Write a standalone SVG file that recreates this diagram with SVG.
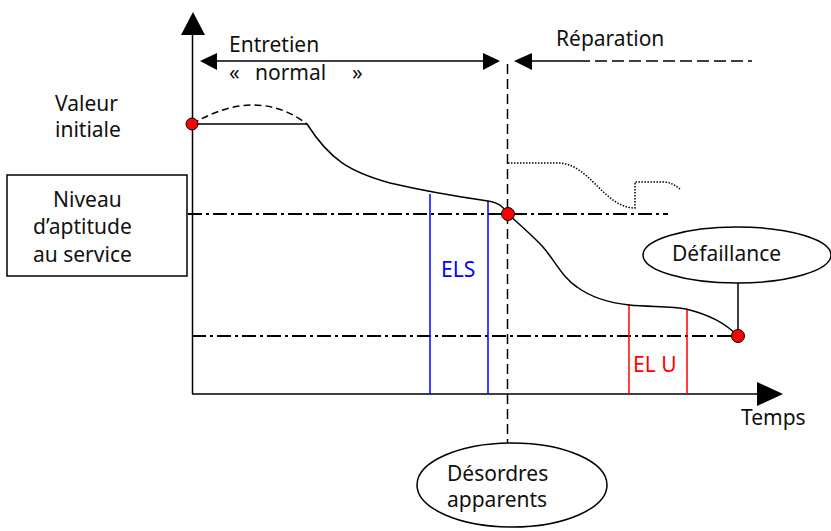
<svg xmlns="http://www.w3.org/2000/svg" width="831" height="531" viewBox="0 0 831 531">
<style>
text{font-family:"Noto Sans","Open Sans",sans-serif;font-size:21px;fill:#111}
.ln{stroke:#000;stroke-width:1.5;fill:none}
.dd{stroke:#000;stroke-width:2;fill:none;stroke-dasharray:14 4 3 4}
.ds{stroke:#000;stroke-width:1.5;fill:none;stroke-dasharray:10 5}
.dot{fill:#f00;stroke:#000;stroke-width:1}
.blue{stroke:#00f;stroke-width:1.5}
.red{stroke:#f00;stroke-width:1.5}
.ah{fill:#000}
</style>
<rect width="831" height="531" fill="#fff"/>
<g id="axes">
<line class="ln" x1="192.5" y1="30" x2="192.5" y2="394"/>
<polygon class="ah" points="193,12 181,35 205,35"/>
<line class="ln" x1="192" y1="394" x2="760" y2="394"/>
<polygon class="ah" points="783,394 757,382 757,406"/>
<text x="741" y="425">Temps</text>
</g>
<g id="phases">
<line class="ln" x1="212" y1="61" x2="488" y2="61"/>
<polygon class="ah" points="200,61 217,53 217,70"/>
<polygon class="ah" points="500,61 483,53 483,70"/>
<text x="229" y="52">Entretien</text>
<text x="229" y="80">«</text>
<text x="255" y="80">normal</text>
<text x="352" y="80">»</text>
<polygon class="ah" points="514,61 532,53 532,70"/>
<line class="ln" x1="528" y1="61" x2="578" y2="61"/>
<line class="ln" x1="578" y1="61" x2="752" y2="61" stroke-dasharray="12 5"/>
<text x="556" y="46">Réparation</text>
</g>
<g id="levels">
<line class="dd" x1="188" y1="214" x2="668" y2="214"/>
<line class="dd" x1="192" y1="336" x2="732" y2="336"/>
</g>
<g id="limits">
<line class="blue" x1="430" y1="194" x2="430" y2="394"/>
<line class="blue" x1="488" y1="201" x2="488" y2="394"/>
<text x="441" y="277" style="fill:#00f">ELS</text>
<line class="red" x1="629" y1="304" x2="629" y2="394"/>
<line class="red" x1="687" y1="309" x2="687" y2="394"/>
<text x="633" y="372" style="fill:#f00">EL U</text>
</g>
<g id="curves">
<path class="ln" d="M192,124 L307,124 C330,160 350,172 390,183 C420,190 460,197 488,201 C500,203 503,207 508,214 C520,225 533,236 543,247 C555,261 563,278 577,287 C592,298 610,303 629,305 C650,307 672,306 686,309 C710,315 725,323 738,336"/>
<path class="ln" stroke-dasharray="7 4" d="M192,124 Q257,86 307,124"/>
<path class="ln" stroke-width="1" stroke-dasharray="1.5 1.5" d="M508,163 L560,163 C590,165 605,208 635,208 L635,182 L663,182 C670,182 675,185 680,189"/>
</g>
<g id="connectors">
<line class="ds" x1="507.5" y1="64" x2="507.5" y2="443"/>
<line class="ln" x1="738" y1="283" x2="738" y2="331"/>
</g>
<g id="valeur-initiale">
<text x="55" y="111">Valeur</text>
<text x="55" y="137">initiale</text>
<circle class="dot" cx="192" cy="124" r="6"/>
</g>
<g id="niveau">
<rect x="7" y="175" width="180" height="101" fill="#fff" stroke="#000" stroke-width="1.5"/>
<text x="53" y="207">Niveau</text>
<text x="33" y="234">d’aptitude</text>
<text x="33" y="262">au service</text>
</g>
<g id="desordres-point">
<circle class="dot" cx="508" cy="214" r="6.5"/>
</g>
<g id="defaillance-point">
<circle class="dot" cx="738" cy="336" r="6.5"/>
</g>
<g id="defaillance">
<ellipse cx="737" cy="255" rx="94" ry="28" fill="#fff" stroke="#000" stroke-width="1.5"/>
<text x="672" y="261">Défaillance</text>
</g>
<g id="desordres">
<ellipse cx="512" cy="485" rx="95" ry="42" fill="#fff" stroke="#000" stroke-width="1.5"/>
<text x="447" y="481">Désordres</text>
<text x="447" y="507">apparents</text>
</g>
</svg>
